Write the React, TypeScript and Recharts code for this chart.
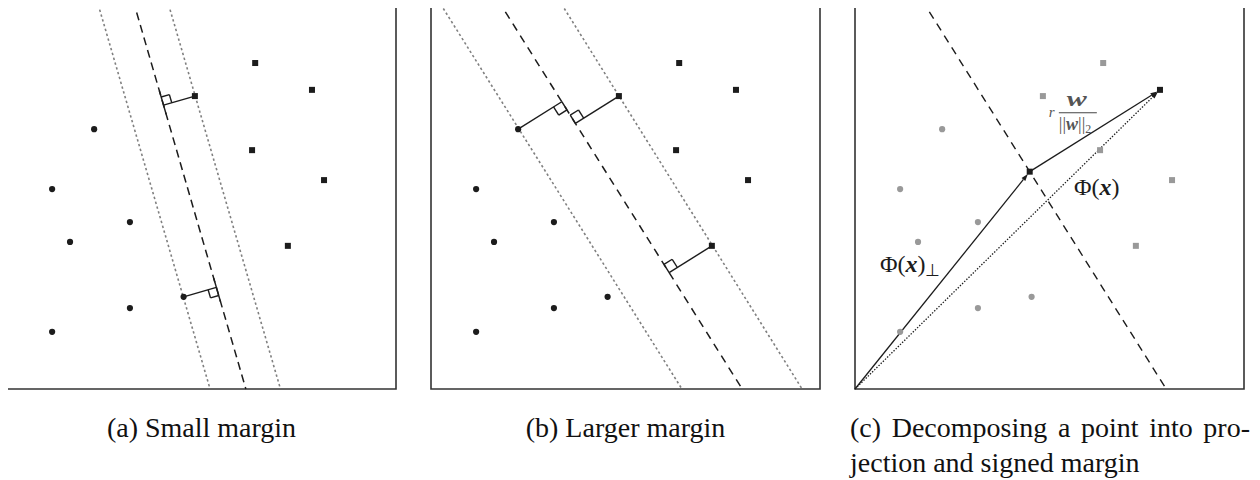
import { ScatterChart, Scatter, XAxis, YAxis, ReferenceLine, ReferenceArea, ReferenceDot } from "recharts";

// the same 13 points are used in all three panels (box is 0..10 on both axes)
const circleX = [2.24, 1.16, 3.16, 1.62, 4.54, 3.16, 1.16];
const circleY = [6.68, 5.14, 4.29, 3.78, 2.37, 2.08, 1.47];
const squareX = [6.38, 7.84, 4.83, 6.3, 8.15, 7.22];
const squareY = [8.38, 7.69, 7.53, 6.14, 5.37, 3.68];

// lines: [x at top of box (y=10), x at bottom (y=0)]
const smallBoundary = [3.24, 6.14];
const smallMargins = [[2.31, 5.22], [4.12, 7.03]];
const largeBoundary = [1.72, 8.0];
const largeMargins = [[0.18, 6.45], [3.29, 9.54]];

// support vectors and which way the right-angle mark goes along the line
const smallSupport = [{ kind: "square", i: 2, dir: 1 }, { kind: "circle", i: 4, dir: -1 }];
const largeSupport = [{ kind: "circle", i: 0, dir: -1 }, { kind: "square", i: 2, dir: 1 }, { kind: "square", i: 5, dir: 1 }];
const picked = 1; // square decomposed in (c)

const captionA = "(a) Small margin";
const captionB = "(b) Larger margin";
const captionC1 = "(c) Decomposing a point into pro-";
const captionC2 = "jection and signed margin";

const circles = circleX.map((x, i) => ({ x, y: circleY[i] }));
const squares = squareX.map((x, i) => ({ x, y: squareY[i] }));

const SIZE = 391;
const INK = "#1c1c1c";
const GREY = "#808080";
const PT_GREY = "#999";

type Pt = { x: number; y: number };

const lineEnds = (l: number[]): [Pt, Pt] => [{ x: l[0], y: 10 }, { x: l[1], y: 0 }];

function foot(p: Pt, l: number[]) {
  const ax = l[1], ay = 0;
  let dx = l[0] - l[1], dy = 10;
  const n = Math.hypot(dx, dy);
  dx /= n; dy /= n;
  const t = (p.x - ax) * dx + (p.y - ay) * dy;
  return { f: { x: ax + t * dx, y: ay + t * dy }, d: { x: dx, y: dy } };
}

const squareShape = (fill: string) => (p: any) => (
  <rect x={p.cx - 3} y={p.cy - 3} width={6} height={6} fill={fill} />
);
const dotShape = (fill: string) => (p: any) => <circle cx={p.cx} cy={p.cy} r={3.1} fill={fill} />;

const arrowShape = (dash?: string) => (p: any) => {
  const { x1, y1 } = p;
  const a = Math.atan2(p.y2 - y1, p.x2 - x1);
  const x2 = p.x2 - 3 * Math.cos(a), y2 = p.y2 - 3 * Math.sin(a);
  const bx = x2 - 7 * Math.cos(a), by = y2 - 7 * Math.sin(a);
  const s = Math.sin(a), c = Math.cos(a);
  return (
    <g>
      <line x1={x1} y1={y1} x2={bx} y2={by} stroke={INK} strokeWidth={1.3} strokeDasharray={dash} />
      <polygon points={`${x2},${y2} ${bx - 2.4 * s},${by + 2.4 * c} ${bx + 2.4 * s},${by - 2.4 * c}`} fill={INK} />
    </g>
  );
};

function Panel({ children }: { children: any }) {
  return (
    <ScatterChart width={SIZE} height={SIZE} margin={{ top: 1, right: 1, bottom: 1, left: 1 }}>
      <XAxis type="number" dataKey="x" domain={[0, 10]} allowDataOverflow hide />
      <YAxis type="number" dataKey="y" domain={[0, 10]} allowDataOverflow hide />
      {children}
      <ReferenceArea x1={0} x2={10} y1={0} y2={10} fill="none" stroke="#333" strokeWidth={1.6} ifOverflow="visible" />
    </ScatterChart>
  );
}

function supportMarks(support: any[], boundary: number[], tick: boolean, mark: number) {
  const out: any[] = [];
  support.forEach((s, k) => {
    const p = s.kind === "circle" ? circles[s.i] : squares[s.i];
    const { f, d } = foot(p, boundary);
    const len = Math.hypot(p.x - f.x, p.y - f.y);
    const n = { x: (p.x - f.x) / len, y: (p.y - f.y) / len };
    const u = { x: d.x * s.dir, y: d.y * s.dir };
    const c1 = { x: f.x + mark * u.x, y: f.y + mark * u.y };
    const c2 = { x: c1.x + mark * n.x, y: c1.y + mark * n.y };
    const c3 = { x: f.x + mark * n.x, y: f.y + mark * n.y };
    const common = { stroke: INK, strokeWidth: 1.4, ifOverflow: "visible" as const };
    out.push(<ReferenceLine key={`p${k}`} segment={[f, p]} {...common} />);
    out.push(<ReferenceLine key={`a${k}`} segment={[c1, c2]} {...common} />);
    out.push(<ReferenceLine key={`b${k}`} segment={[c2, c3]} {...common} />);
    if (tick) {
      const t1 = { x: f.x - 1.1 * mark * u.x, y: f.y - 1.1 * mark * u.y };
      const t2 = { x: f.x + 1.75 * mark * u.x, y: f.y + 1.75 * mark * u.y };
      out.push(<ReferenceLine key={`t${k}`} segment={[t1, t2]} {...common} />);
    } else {
      out.push(<ReferenceLine key={`t${k}`} segment={[f, c1]} {...common} />);
    }
  });
  return out;
}

function marginLines(boundary: number[], margins: number[][], dash: string) {
  return [
    ...margins.map((m, i) => (
      <ReferenceLine key={`m${i}`} segment={lineEnds(m)} stroke={GREY} strokeWidth={1.6} strokeDasharray="2.4 2.6" ifOverflow="visible" />
    )),
    <ReferenceLine key="b" segment={lineEnds(boundary)} stroke={INK} strokeWidth={1.5} strokeDasharray={dash} ifOverflow="visible" />,
  ];
}

function PanelA() {
  return (
    <Panel>
      {marginLines(smallBoundary, smallMargins, "8 5")}
      {supportMarks(smallSupport, smallBoundary, true, 0.22)}
      <Scatter data={circles} fill={INK} shape={dotShape(INK)} isAnimationActive={false} />
      <Scatter data={squares} fill={INK} shape={squareShape(INK)} isAnimationActive={false} />
    </Panel>
  );
}

function PanelB() {
  return (
    <Panel>
      {marginLines(largeBoundary, largeMargins, "8 6")}
      {supportMarks(largeSupport, largeBoundary, false, 0.25)}
      <Scatter data={circles} fill={INK} shape={dotShape(INK)} isAnimationActive={false} />
      <Scatter data={squares} fill={INK} shape={squareShape(INK)} isAnimationActive={false} />
    </Panel>
  );
}

const serif = "Liberation Serif, Times New Roman, Times, serif";

function PanelC() {
  const target = squares[picked];
  const proj = foot(target, largeBoundary).f;
  const origin = { x: 0, y: 0 };
  const rest = squares.filter((_, i) => i !== picked);
  return (
    <Panel>
      <Scatter data={circles} fill={PT_GREY} shape={dotShape(PT_GREY)} isAnimationActive={false} />
      <Scatter data={rest} fill={PT_GREY} shape={squareShape(PT_GREY)} isAnimationActive={false} />
      <ReferenceLine segment={lineEnds(largeBoundary)} stroke={INK} strokeWidth={1.4} strokeDasharray="8 6" ifOverflow="visible" />
      <ReferenceLine segment={[origin, target]} shape={arrowShape("1.4 1.6")} ifOverflow="visible" />
      <ReferenceLine segment={[origin, proj]} shape={arrowShape()} ifOverflow="visible" />
      <ReferenceLine segment={[proj, target]} shape={arrowShape()} ifOverflow="visible" />
      <Scatter data={[target, proj]} fill={INK} shape={squareShape(INK)} isAnimationActive={false} />
      <ReferenceDot
        x={0.64}
        y={3.0}
        r={0}
        ifOverflow="visible"
        shape={(p: any) => (
          <text x={p.cx} y={p.cy} fontFamily={serif} fontSize={24} fill={INK}>
            Φ(<tspan fontWeight="bold" fontStyle="italic">x</tspan>)
            <tspan fontSize={17} dy={4}>⊥</tspan>
          </text>
        )}
      />
      <ReferenceDot
        x={5.63}
        y={4.99}
        r={0}
        ifOverflow="visible"
        shape={(p: any) => (
          <text x={p.cx} y={p.cy} fontFamily={serif} fontSize={24} fill={INK}>
            Φ(<tspan fontWeight="bold" fontStyle="italic">x</tspan>)
          </text>
        )}
      />
      <ReferenceDot
        x={5.24}
        y={7.1}
        r={0}
        ifOverflow="visible"
        shape={(p: any) => (
          <g fontFamily={serif} fill="#555">
            <text x={p.cx - 10} y={p.cy + 4} fontSize={15} fontStyle="italic">r</text>
            <text
              x={p.cx + 8}
              y={p.cy - 7}
              fontSize={20}
              fontWeight="bold"
              fontStyle="italic"
              textLength={20}
              lengthAdjust="spacingAndGlyphs"
            >
              w
            </text>
            <line x1={p.cx} y1={p.cy} x2={p.cx + 38} y2={p.cy} stroke="#444" strokeWidth={1.1} />
            <text x={p.cx} y={p.cy + 17} fontSize={18}>
              ||<tspan fontWeight="bold" fontStyle="italic">w</tspan>||<tspan fontSize={12} dy={3}>2</tspan>
            </text>
          </g>
        )}
      />
    </Panel>
  );
}

const capStyle: any = { position: "absolute", fontFamily: serif, fontSize: 28, color: "#111", lineHeight: "35px" };

export default function App() {
  return (
    <div style={{ position: "relative", width: 1260, height: 480, margin: "-8px 0 0 -8px", background: "#fff", overflow: "hidden" }}>
      <div style={{ position: "absolute", left: 6, top: -1 }}><PanelA /></div>
      <div style={{ position: "absolute", left: 430, top: -1 }}><PanelB /></div>
      <div style={{ position: "absolute", left: 854, top: -1 }}><PanelC /></div>
      <div style={{ ...capStyle, left: 7, top: 410, width: 389, textAlign: "center" }}>{captionA}</div>
      <div style={{ ...capStyle, left: 431, top: 410, width: 389, textAlign: "center" }}>{captionB}</div>
      <div style={{ ...capStyle, left: 850, top: 410, width: 400 }}>
        <div style={{ textAlign: "justify", textAlignLast: "justify" }}>{captionC1}</div>
        <div>{captionC2}</div>
      </div>
    </div>
  );
}
